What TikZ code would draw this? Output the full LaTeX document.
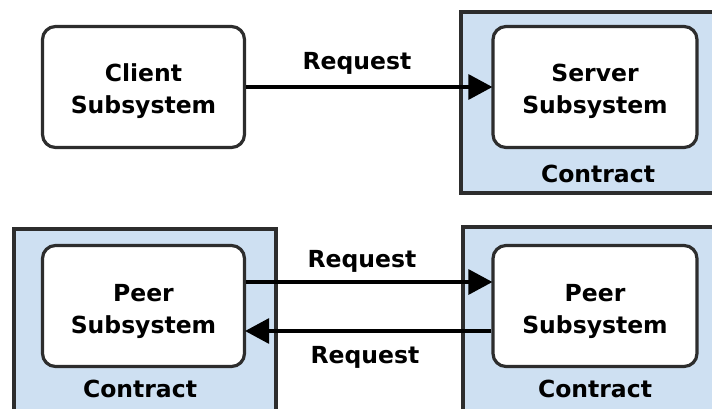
\documentclass[tikz,border=0pt]{standalone}
\usepackage{fontspec}
\setmainfont{DejaVu Sans}
\usetikzlibrary{arrows.meta}
\definecolor{contractfill}{RGB}{206,224,242}
\definecolor{edgegray}{RGB}{45,45,45}
\tikzset{
  subsys/.style={draw=edgegray, line width=3.2pt, rounded corners=13pt, fill=white,
    minimum width=202pt, minimum height=121pt, inner sep=0pt},
  contract/.style={draw=edgegray, line width=3.2pt, fill=contractfill},
  txt/.style={font=\fontsize{23.5}{32}\selectfont\bfseries, align=center, inner sep=0pt, text=black},
  lbl/.style={font=\fontsize{23.5}{28}\selectfont\bfseries, inner sep=0pt, anchor=base, text=black},
  arr/.style={line width=3.2pt, black, -{Triangle[length=24pt,width=25pt]}, shorten >=-1pt},
}
\begin{document}
\begin{tikzpicture}[x=1pt,y=-1pt]
\useasboundingbox (0,0) rectangle (712,408);
\clip (0,0) rectangle (712,408);
% contract frames
\draw[contract] (461,12) rectangle (716,193);
\draw[contract] (14,229) rectangle (276,412);
\draw[contract] (463,227) rectangle (716,412);
% subsystems
\node[subsys] (client) at (143.5,87) {};
\node[subsys, minimum width=204pt] (server) at (595,87) {};
\node[subsys] (peerl) at (143.5,306) {};
\node[subsys, minimum width=204pt] (peerr) at (595,306) {};
\node[txt] (clientt) at ([yshift=-4.5pt]client.center) {Client\\Subsystem};
\node[txt] (servert) at ([yshift=-4.5pt]server.center) {Server\\Subsystem};
\node[txt] (peerlt) at ([yshift=-5.5pt]peerl.center) {Peer\\Subsystem};
\node[txt] (peerrt) at ([yshift=-5.5pt]peerr.center) {Peer\\Subsystem};
% contract labels
\node[lbl] (c1) at (598,182) {Contract};
\node[lbl] (c2) at (140,397) {Contract};
\node[lbl] (c3) at (595,397) {Contract};
% connectors
\draw[arr] (client.east) -- (server.west);
\draw[arr] ([yshift=24pt]peerl.east) -- ([yshift=24pt]peerr.west);
\draw[arr] ([yshift=-25pt]peerr.west) -- ([yshift=-25pt]peerl.east);
% connector labels
\node[lbl] (r1) at (357,69) {Request};
\node[lbl] (r2) at (362,267) {Request};
\node[lbl] (r3) at (365,363) {Request};
\end{tikzpicture}
\end{document}
